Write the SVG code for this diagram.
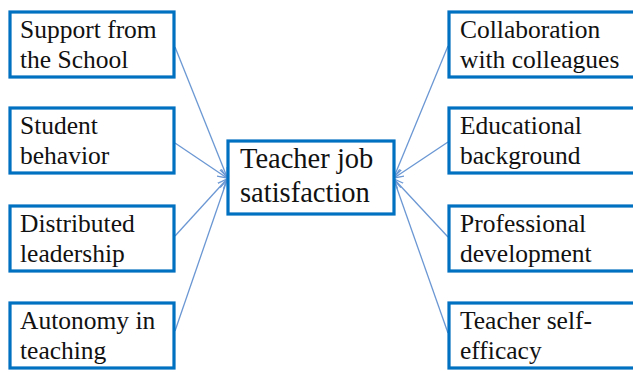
<svg xmlns="http://www.w3.org/2000/svg" width="633" height="372" viewBox="0 0 633 372">
<defs>
<style>
.box{fill:#fff;stroke:#0070c0;stroke-width:3.2}
.t{font-family:"Liberation Serif","Times New Roman",serif;font-size:25.5px;fill:#111}
.tc{font-family:"Liberation Serif","Times New Roman",serif;font-size:28.5px;fill:#111}
.ln{stroke:#6b97d3;stroke-width:1.3;fill:none;marker-end:url(#ar)}
</style>
<marker id="ar" viewBox="0 0 10 10" refX="9.5" refY="5" markerWidth="10" markerHeight="10" markerUnits="userSpaceOnUse" orient="auto">
<path d="M0,1 L9.5,5 L0,9" fill="none" stroke="#6b97d3" stroke-width="1.3"/>
</marker>
</defs>
<rect width="633" height="372" fill="#fff"/>
<g id="connectors">
<line class="ln" x1="175" y1="47" x2="227" y2="177"/>
<line class="ln" x1="175" y1="143" x2="227" y2="178"/>
<line class="ln" x1="175" y1="236" x2="227" y2="179"/>
<line class="ln" x1="175" y1="331" x2="227" y2="180"/>
<line class="ln" x1="448" y1="46" x2="394" y2="177"/>
<line class="ln" x1="448" y1="142" x2="394" y2="178"/>
<line class="ln" x1="448" y1="237" x2="394" y2="179"/>
<line class="ln" x1="448" y1="333" x2="394" y2="180"/>
</g>
<g id="center">
<rect class="box" x="228" y="141" width="166" height="73"/>
<text class="tc" x="240" y="168">Teacher job</text>
<text class="tc" x="240" y="202">satisfaction</text>
</g>
<g id="n1">
<rect class="box" x="10" y="12" width="164" height="65"/>
<text class="t" x="20" y="38">Support from</text>
<text class="t" x="20" y="68">the School</text>
</g>
<g id="n2">
<rect class="box" x="10" y="108" width="164" height="65"/>
<text class="t" x="20" y="134">Student</text>
<text class="t" x="20" y="164">behavior</text>
</g>
<g id="n3">
<rect class="box" x="10" y="206" width="164" height="65"/>
<text class="t" x="20" y="232">Distributed</text>
<text class="t" x="20" y="262">leadership</text>
</g>
<g id="n4">
<rect class="box" x="10" y="303" width="164" height="65"/>
<text class="t" x="20" y="329">Autonomy in</text>
<text class="t" x="20" y="359">teaching</text>
</g>
<g id="n5">
<rect class="box" x="449" y="12" width="200" height="65"/>
<text class="t" x="460" y="38">Collaboration</text>
<text class="t" x="460" y="68">with colleagues</text>
</g>
<g id="n6">
<rect class="box" x="449" y="108" width="200" height="65"/>
<text class="t" x="460" y="134">Educational</text>
<text class="t" x="460" y="164">background</text>
</g>
<g id="n7">
<rect class="box" x="449" y="206" width="200" height="65"/>
<text class="t" x="460" y="232">Professional</text>
<text class="t" x="460" y="262">development</text>
</g>
<g id="n8">
<rect class="box" x="449" y="303" width="200" height="65"/>
<text class="t" x="460" y="329">Teacher self-</text>
<text class="t" x="460" y="359">efficacy</text>
</g>
</svg>
